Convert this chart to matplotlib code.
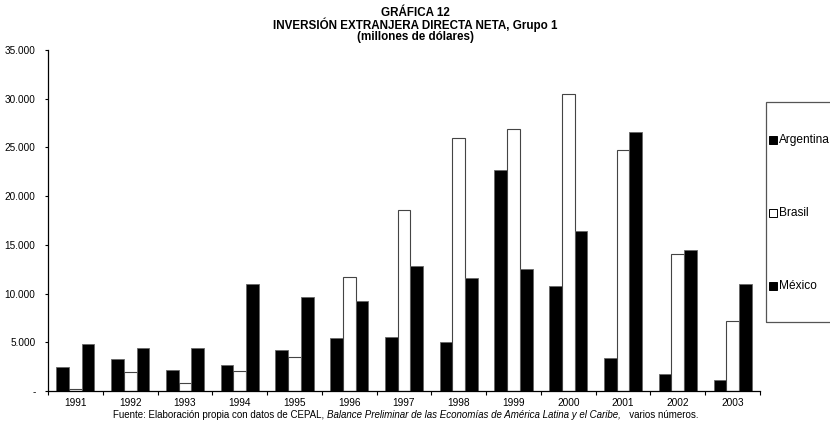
import numpy as np
import matplotlib.pyplot as plt
from matplotlib.ticker import FuncFormatter

plt.rcParams['font.family'] = ['Liberation Sans', 'DejaVu Sans']

# net FDI, millions of dollars
years = ['1991', '1992', '1993', '1994', '1995', '1996', '1997',
         '1998', '1999', '2000', '2001', '2002', '2003']
argentina = [2490, 3280, 2150, 2660, 4200, 5430, 5530, 5020, 22640, 10730, 3380, 1780, 1130]
brasil = [170, 1915, 850, 2080, 3520, 11680, 18580, 26000, 26900, 30460, 24690, 14110, 7140]
mexico = [4815, 4440, 4440, 11000, 9600, 9220, 12840, 11610, 12500, 16420, 26540, 14450, 11030]
series = ['Argentina', 'Brasil', 'México']

fig = plt.figure(figsize=(8.3, 4.23), dpi=100)
ax = fig.add_axes([48/830, 32/423, 712/830, 341/423])

x = np.arange(len(years))
w = 0.232
ax.bar(x - w, argentina, w, color='black', edgecolor='#666666', lw=0.6, label=series[0])
ax.bar(x, brasil, w, color='white', edgecolor='#444444', lw=0.8, label=series[1])
ax.bar(x + w, mexico, w, color='black', edgecolor='#666666', lw=0.6, label=series[2])

ax.set_xlim(-0.5, len(years) - 0.5)
ax.set_ylim(0, 35000)
ax.set_yticks(np.arange(0, 35001, 5000))
ax.yaxis.set_major_formatter(FuncFormatter(
    lambda v, p: '-' if v == 0 else '{:,.0f}'.format(v).replace(',', '.')))
ax.set_xticks(x)
ax.set_xticklabels(years)
ax.set_xticks(np.arange(-0.5, len(years), 1), minor=True)
ax.tick_params(axis='x', which='major', length=0, pad=5, labelsize=7.3)
ax.tick_params(axis='x', which='minor', length=3, width=0.8, direction='out')
ax.tick_params(axis='y', length=2.4, width=0.8, labelsize=7.2, pad=6.5)
for s in ['top', 'right']:
    ax.spines[s].set_visible(False)
for s in ['left', 'bottom']:
    ax.spines[s].set_linewidth(0.9)

fig.text(0.5, 1 - 25/423, 'GRÁFICA 12\nINVERSIÓN EXTRANJERA DIRECTA NETA, Grupo 1\n(millones de dólares)',
         ha='center', va='center', fontsize=8.4, fontweight='bold', linespacing=0.88)

# source note, partly italic
fs = 7.0
t1 = fig.text(113/830, 1 - 415/423, 'Fuente: Elaboración propia con datos de CEPAL, ',
              fontsize=fs, va='center')
fig.canvas.draw()
bb = t1.get_window_extent()
t2 = fig.text(bb.x1/830, 1 - 415/423,
              'Balance Preliminar de las Economías de América Latina y el Caribe,',
              fontsize=fs, va='center', style='italic')
bb2 = t2.get_window_extent()
fig.text(bb2.x1/830, 1 - 415/423, '   varios números.', fontsize=fs, va='center')

# legend box running off the right edge
lx, ly0, ly1 = 766, 102, 322
fig.patches.append(plt.Rectangle((lx/830, 1 - ly1/423), 80/830, (ly1 - ly0)/423,
                                 transform=fig.transFigure, fill=False,
                                 edgecolor='#555555', lw=0.9))
for name, yy, fc in [('Argentina', 140, 'black'), ('Brasil', 213, 'white'), ('México', 286, 'black')]:
    fig.patches.append(plt.Rectangle((769/830, 1 - (yy + 4)/423), 8/830, 8/423,
                                     transform=fig.transFigure, facecolor=fc,
                                     edgecolor='black', lw=0.7))
    fig.text(779/830, 1 - yy/423, name, fontsize=8.6, va='center')

fig.savefig('out.png', dpi=100)
